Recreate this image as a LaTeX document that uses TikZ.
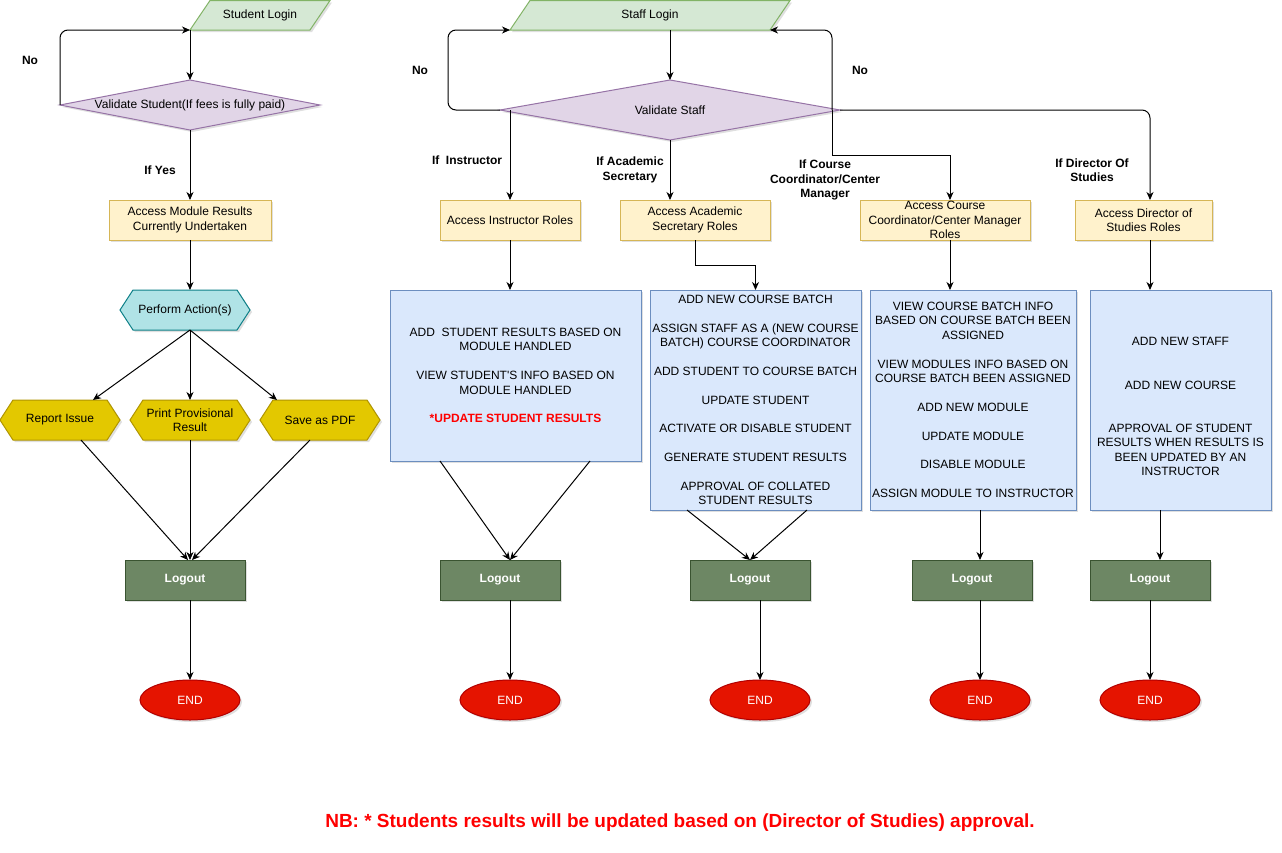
\documentclass[tikz,border=0pt]{standalone}
\usepackage{fontspec}
\setmainfont{Liberation Sans}
\usetikzlibrary{shapes.geometric,shapes.symbols,arrows.meta,shadows}
\definecolor{loginFill}{HTML}{D5E8D4}
\definecolor{loginDraw}{HTML}{82B366}
\definecolor{decFill}{HTML}{E1D5E7}
\definecolor{decDraw}{HTML}{9673A6}
\definecolor{roleFill}{HTML}{FFF2CC}
\definecolor{roleDraw}{HTML}{D6B656}
\definecolor{listFill}{HTML}{DAE8FC}
\definecolor{listDraw}{HTML}{6C8EBF}
\definecolor{actFill}{HTML}{B0E3E6}
\definecolor{actDraw}{HTML}{0E8088}
\definecolor{optFill}{HTML}{E3C800}
\definecolor{optDraw}{HTML}{B09500}
\definecolor{outFill}{HTML}{6D8764}
\definecolor{outDraw}{HTML}{3A5431}
\definecolor{endFill}{HTML}{E51400}
\definecolor{endDraw}{HTML}{B20000}
\definecolor{noteRed}{HTML}{FF0000}
\begin{document}
\begin{tikzpicture}[x=1pt,y=-1pt,
  font=\fontsize{12}{14.4}\selectfont,
  every node/.style={inner sep=0pt,outer sep=0pt},
  softshadow/.style={drop shadow={shadow xshift=2pt,shadow yshift=-2pt,opacity=0.25}},
  login/.style={fill=loginFill,draw=loginDraw,line width=1pt,softshadow},
  decision/.style={diamond,fill=decFill,draw=decDraw,line width=1pt,softshadow},
  rolebox/.style={rectangle,fill=roleFill,draw=roleDraw,line width=1pt,minimum height=40pt,align=center,softshadow},
  listbox/.style={rectangle,fill=listFill,draw=listDraw,line width=1pt,align=center,minimum height=220pt,softshadow},
  hexa/.style={signal,signal to=east and west,signal pointer angle=114,minimum height=40pt,minimum width=120pt,line width=1pt,softshadow},
  logoutbox/.style={rectangle,fill=outFill,draw=outDraw,line width=1pt,minimum width=120pt,minimum height=40pt,text=white,font=\fontsize{12}{14.4}\selectfont\bfseries,softshadow},
  endnode/.style={ellipse,fill=endFill,draw=endDraw,line width=1pt,minimum width=100pt,minimum height=40pt,text=white,softshadow},
  tag/.style={font=\fontsize{12}{14.4}\selectfont\bfseries,align=center},
  arr/.style={draw=black,line width=1pt,-{Stealth[length=8pt,width=7pt,inset=2.5pt]}},
]
\fill[white] (0,0) rectangle (1282,852);
\useasboundingbox (0,0) rectangle (1282,852);

% ---------------- student flow ----------------
\draw[login] (190,30) -- (210,0.5) -- (330,0.5) -- (310,30) -- cycle;
\node (slogin) at (260,15) {Student Login};
\coordinate (sloginfoot) at (190,30);

\node[decision,minimum width=260pt,minimum height=50pt,
      label=center:{Validate Student(If fees is fully paid)}] (vstudent) at (190,105) {};
\node[rolebox,minimum width=162pt] (modres) at (190,220) {Access Module Results\\Currently Undertaken};
\node[hexa,fill=actFill,draw=actDraw,minimum width=130pt,label=center:{Perform Action(s)}] (perform) at (185,310) {};
\node[hexa,fill=optFill,draw=optDraw,label=center:{Report Issue}] (report) at (60,420) {};
\node[hexa,fill=optFill,draw=optDraw,label={[align=center]center:Print Provisional\\Result}] (print) at (190,420) {};
\node[hexa,fill=optFill,draw=optDraw,label=center:{Save as PDF}] (savepdf) at (320,420) {};
\node[logoutbox] (out1) at (185,580) {Logout};
\node[endnode] (end1) at (190,700) {END};

\draw[arr] (sloginfoot) -- (vstudent.north);
\draw[arr,rounded corners=8pt] (vstudent.west) |- (sloginfoot);
\node[tag] (noS) at (30,60) {No};
\draw[arr] (vstudent.south) -- (modres.north);
\node[tag] (yesS) at (160,170) {If Yes};
\draw[arr] (modres.south) -- ([xshift=5pt]perform.north);
\coordinate (fork) at ([xshift=5pt]perform.south);
\draw[arr] (fork) -- ([xshift=33pt]report.north);
\draw[arr] (fork) -- (print.north);
\draw[arr] (fork) -- ([xshift=-43pt]savepdf.north);
\draw[arr] ([xshift=21pt]report.south) -- ([xshift=3pt]out1.north);
\draw[arr] (print.south) -- ([xshift=5pt]out1.north);
\draw[arr] ([xshift=-10pt]savepdf.south) -- ([xshift=7pt]out1.north);
\draw[arr] ([xshift=5pt]out1.south) -- (end1.north);

% ---------------- staff flow ----------------
\draw[login] (510,30) -- (530,0.5) -- (790,0.5) -- (770,30) -- cycle;
\node (stlogin) at (650,15) {Staff Login};
\coordinate (stfootL) at (510,30);
\coordinate (stfootM) at (670,30);
\coordinate (stfootR) at (770,30);

\node[decision,minimum width=340pt,minimum height=60pt,label=center:{Validate Staff}] (vstaff) at (670,110) {};
\coordinate (vstaffL) at (510,110);
\coordinate (vstaffR) at (832,110);

\draw[arr] (stfootM) -- (vstaff.north);
\draw[arr,rounded corners=8pt] (vstaff.west) -- (448,110) |- (stfootL);
\draw[arr,rounded corners=8pt] (vstaffR) |- (stfootR);
\node[tag] (noL) at (420,70) {No};
\node[tag] (noR) at (860,70) {No};

% role boxes
\node[rolebox,minimum width=140pt] (instr) at (510,220) {Access Instructor Roles};
\node[rolebox,minimum width=150pt] (acad) at (695,220) {Access Academic\\Secretary Roles};
\node[rolebox,minimum width=170pt,
      label={[align=center]center:Access Course\\Coordinator/Center Manager\\Roles}] (coord) at (945,220) {};
\node[rolebox,minimum width=137pt] (dirst) at (1143.5,220) {Access Director of\\Studies Roles};

\draw[arr] (vstaffL) -- (instr.north);
\draw[arr] (vstaff.south) -- (vstaff.south |- acad.north);
\draw[arr] (vstaffR) -- (832,155) -| ([xshift=5pt]coord.north);
\draw[arr,rounded corners=8pt] (vstaff.east) -| ([xshift=6.5pt]dirst.north);

\node[tag] (tInstr) at (467,160) {If\ \ Instructor};
\node[tag] (tAcad) at (630,170) {If Academic\\Secretary};
\node[tag] (tCoord) at (825,180) {If Course\\Coordinator/Center\\Manager};
\node[tag] (tDir) at (1092,170) {If Director Of\\Studies};

% task lists
\node[listbox,minimum width=251pt,minimum height=171pt] (instrlist) at (515.5,375.5)
  {ADD\ \ STUDENT RESULTS BASED ON\\MODULE HANDLED\\[14.4pt]
   VIEW STUDENT\textquotesingle S INFO BASED ON\\MODULE HANDLED\\[14.4pt]
   {\color{noteRed}\bfseries *UPDATE STUDENT RESULTS}};
\node[listbox,minimum width=211pt] (acadlist) at (755.5,400)
  {ADD NEW COURSE BATCH\\[14.4pt]
   ASSIGN STAFF AS A (NEW COURSE\\BATCH) COURSE COORDINATOR\\[14.4pt]
   ADD STUDENT TO COURSE BATCH\\[14.4pt]
   UPDATE STUDENT\\[14.4pt]
   ACTIVATE OR DISABLE STUDENT\\[14.4pt]
   GENERATE STUDENT RESULTS\\[14.4pt]
   APPROVAL OF COLLATED\\STUDENT RESULTS};
\node[listbox,minimum width=206pt] (coordlist) at (973,400)
  {VIEW COURSE BATCH INFO\\BASED ON COURSE BATCH BEEN\\ASSIGNED\\[14.4pt]
   VIEW MODULES INFO BASED ON\\COURSE BATCH BEEN ASSIGNED\\[14.4pt]
   ADD NEW MODULE\\[14.4pt]
   UPDATE MODULE\\[14.4pt]
   DISABLE MODULE\\[14.4pt]
   ASSIGN MODULE TO INSTRUCTOR};
\node[listbox,minimum width=181pt,
      label={[align=center,yshift=-6.5pt]center:ADD NEW STAFF\\[28.8pt]
        ADD NEW COURSE\\[28.8pt]
        APPROVAL OF STUDENT\\RESULTS WHEN RESULTS IS\\BEEN UPDATED BY AN\\INSTRUCTOR}] (dirlist) at (1180.5,400) {};

\coordinate (coordOut) at ([xshift=5pt]coord.south);
\coordinate (dirOut) at ([xshift=6.5pt]dirst.south);
\draw[arr] (instr.south) -- (instr.south |- instrlist.north);
\draw[arr] (acad.south) -- ++(0,25) -| (acadlist.north);
\draw[arr] (coordOut) -- (coordOut |- coordlist.north);
\draw[arr] (dirOut) -- (dirOut |- dirlist.north);

% logout and end
\node[logoutbox] (out2) at (500,580) {Logout};
\node[logoutbox] (out3) at (750,580) {Logout};
\node[logoutbox] (out4) at (972,580) {Logout};
\node[logoutbox] (out5) at (1150,580) {Logout};
\node[endnode] (end2) at (510,700) {END};
\node[endnode] (end3) at (760,700) {END};
\node[endnode] (end4) at (980,700) {END};
\node[endnode] (end5) at (1150,700) {END};

\draw[arr] ([xshift=-75.5pt]instrlist.south) -- ([xshift=10pt]out2.north);
\draw[arr] ([xshift=74.5pt]instrlist.south) -- ([xshift=10pt]out2.north);
\draw[arr] ([xshift=-68.5pt]acadlist.south) -- (out3.north);
\draw[arr] ([xshift=51.5pt]acadlist.south) -- (out3.north);
\draw[arr] ([xshift=7pt]coordlist.south) -- ([xshift=8pt]out4.north);
\draw[arr] ([xshift=-20.5pt]dirlist.south) -- ([xshift=10pt]out5.north);
\draw[arr] ([xshift=10pt]out2.south) -- (end2.north);
\draw[arr] ([xshift=10pt]out3.south) -- (end3.north);
\draw[arr] ([xshift=8pt]out4.south) -- (end4.north);
\draw[arr] (out5.south) -- (end5.north);

% footnote
\node[font=\fontsize{19}{22}\selectfont\bfseries,text=noteRed] (note) at (680,823)
  {NB: * Students results will be updated based on (Director of Studies) approval.};
\end{tikzpicture}
\end{document}
